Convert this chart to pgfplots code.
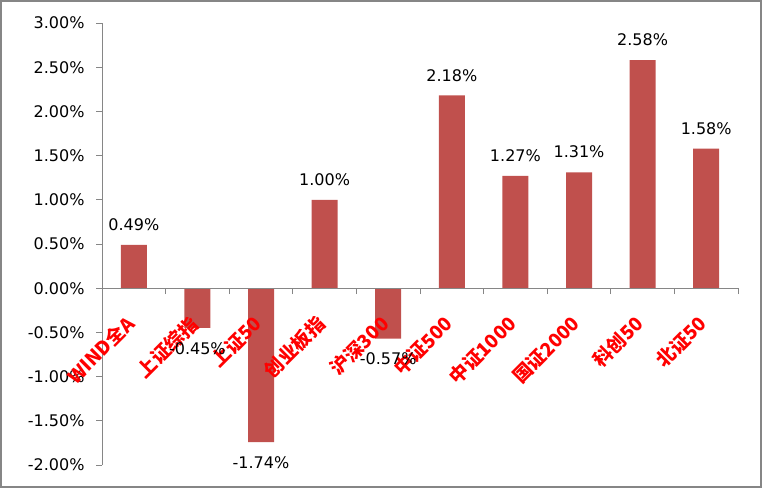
\documentclass[border=0pt]{standalone}
\usepackage{pgfplots}
\pgfplotsset{compat=1.18}
\usepackage{fontspec}
\setmainfont{DejaVu Sans}
\newfontfamily\cjk{Noto Sans CJK SC}
\definecolor{barred}{HTML}{C0504D}
\definecolor{axgray}{HTML}{868686}
\begin{document}
\begin{tikzpicture}[x=1pt,y=1pt]
\draw[axgray, line width=2pt] (1,1) rectangle (761,487);
\begin{axis}[
  at={(102pt,23pt)}, anchor=south west,
  width=636pt, height=442pt, scale only axis,
  clip=false, axis on top,
  /pgf/number format/assume math mode=true,
  ymin=-2, ymax=3, ytick={-2,-1.5,...,3},
  xmin=-0.5, xmax=9.5,
  axis x line*=middle, axis y line*=left,
  hide obscured y ticks=false,
  hide obscured x ticks=false,
  tick align=outside,
  axis line style={axgray, line width=0.8pt},
  tick style={axgray, line width=0.8pt},
  major tick length=6pt,
  xtick={-0.5,0.5,...,9.5}, xticklabels={},
  extra x ticks={0,1,2,3,4,5,6,7,8,9},
  extra x tick labels={WIND全A,上证综指,上证50,创业板指,沪深300,中证500,中证1000,国证2000,科创50,北证50},
  extra x tick style={major tick length=0pt, xticklabel style={xshift=-9.5pt, yshift=-25.5pt, rotate=45, anchor=north east, text=red, font=\cjk\bfseries\fontsize{19}{21}\selectfont, inner sep=0pt}},
  yticklabel={\pgfmathprintnumber[fixed,fixed zerofill,precision=2]{\tick}\%},
  yticklabel style={font=\fontsize{16}{18}\selectfont, text=black, xshift=-8pt},
  ybar, bar width=26pt,
  nodes near coords={\pgfmathprintnumber[fixed,fixed zerofill,precision=2]{\pgfplotspointmeta}\%},
  nodes near coords style={font=\fontsize{16}{18}\selectfont, text=black, inner sep=14pt},
]
\addplot[fill=barred, draw=none] coordinates {
  (0,0.49) (1,-0.45) (2,-1.74) (3,1.00) (4,-0.57)
  (5,2.18) (6,1.27) (7,1.31) (8,2.58) (9,1.58)
};
\end{axis}
\end{tikzpicture}
\end{document}
